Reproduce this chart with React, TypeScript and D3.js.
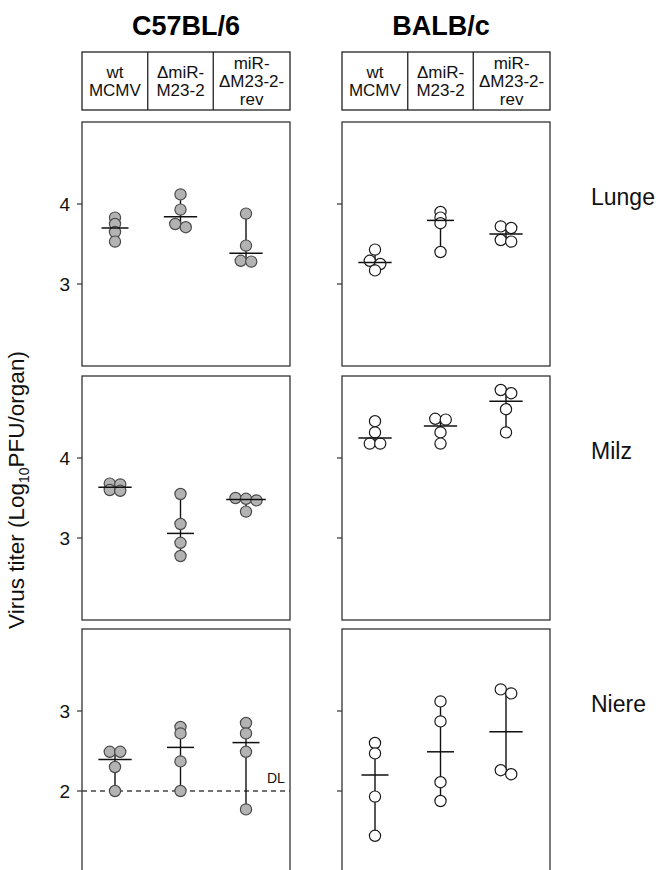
import React from "react";
import * as d3 from "d3";

// Strains (columns), organs (rows) and virus groups (x categories)
const strains = ["C57BL/6", "BALB/c"];
const organs = ["Lunge", "Milz", "Niere"];
const groups = ["wt MCMV", "ΔmiR-M23-2", "miR-ΔM23-2-rev"];
const groupLabelLines = [
  ["wt", "MCMV"],
  ["ΔmiR-", "M23-2"],
  ["miR-", "ΔM23-2-", "rev"],
];

// Virus titer, log10 PFU per organ, one array per group (4 mice each)
const lungeC57 = [
  [3.83, 3.75, 3.65, 3.53],
  [4.12, 3.93, 3.75, 3.71],
  [3.88, 3.48, 3.29, 3.28],
];
const lungeBALB = [
  [4.43, 4.29, 4.25, 4.17],
  [4.9, 4.83, 4.76, 4.4],
  [4.72, 4.7, 4.55, 4.53],
];
const milzC57 = [
  [3.68, 3.67, 3.6, 3.59],
  [3.55, 3.175, 2.94, 2.775],
  [3.5, 3.49, 3.47, 3.33],
];
const milzBALB = [
  [5.46, 5.32, 5.18, 5.18],
  [5.49, 5.48, 5.32, 5.18],
  [5.85, 5.81, 5.61, 5.32],
];
const niereC57 = [
  [2.49, 2.49, 2.3, 2.0],
  [2.8, 2.72, 2.37, 2.0],
  [2.85, 2.72, 2.49, 1.77],
];
const niereBALB = [
  [3.6, 3.47, 2.93, 2.44],
  [4.12, 3.87, 3.11, 2.875],
  [4.27, 4.22, 3.26, 3.21],
];

// Tick values per organ row
const c57Ticks = [[4, 3], [4, 3], [3, 2]];
const balbTicks = [[5, 4], [5, 4], [4, 3]];

// Detection limit (C57BL/6 kidney)
const detectionLimit = 2;

const dataByStrain = [
  [lungeC57, milzC57, niereC57],
  [lungeBALB, milzBALB, niereBALB],
];
const ticksByStrain = [c57Ticks, balbTicks];

// Layout
const FONT = "'Liberation Sans', Arial, sans-serif";
const colX = [82, 342];
const rowY = [122, 376, 629];
const panelW = 208;
const panelH = 244;
const headerTop = 52;
const headerH = 58;
const titleX = [186, 441];

const R = 5.6;

function xScale(s: number) {
  const x0 = colX[s];
  return d3.scalePoint<string>().domain(groups).range([x0 + 33, x0 + 164]);
}

type Placed = { v: number; dx: number };

// Spread points of nearly equal value side by side
function dodge(values: number[], y: d3.ScaleLinear<number, number>): { pts: Placed[]; spread: number } {
  const sorted = [...values].sort((a, b) => b - a);
  const rows: number[][] = [];
  for (const v of sorted) {
    const last = rows[rows.length - 1];
    if (last && Math.abs(y(v) - y(last[0])) < 5) last.push(v);
    else rows.push([v]);
  }
  const pts: Placed[] = [];
  let spread = 0;
  const step = 10.5;
  rows.forEach((row) => {
    row.forEach((v, i) => {
      const dx = (i - (row.length - 1) / 2) * step;
      spread = Math.max(spread, Math.abs(dx));
      pts.push({ v, dx });
    });
  });
  return { pts, spread };
}

function Panel({ s, o }: { s: number; o: number }) {
  const x0 = colX[s];
  const y0 = rowY[o];
  const ticks = ticksByStrain[s][o];
  const hi = d3.max(ticks) as number;
  const lo = d3.min(ticks) as number;
  const y = d3.scaleLinear().domain([lo - 1.025, hi + 1.025]).range([y0 + panelH, y0]);
  const x = xScale(s);
  const filled = s === 0;
  const series = dataByStrain[s][o];
  const fill = filled ? "#b3b3b3" : "#ffffff";
  const stroke = filled ? "#4a4a4a" : "#1a1a1a";

  return (
    <g>
      <rect x={x0} y={y0} width={panelW} height={panelH} fill="#fff" stroke="#333" strokeWidth={1.3} />
      {ticks.map((t) => (
        <g key={t}>
          <line x1={x0 - 5} x2={x0} y1={y(t)} y2={y(t)} stroke="#333" strokeWidth={1.2} />
          {s === 0 && (
            <text x={x0 - 12} y={y(t)} textAnchor="end" dominantBaseline="central" fontSize={19} fontFamily={FONT} fill="#111">
              {t}
            </text>
          )}
        </g>
      ))}
      {s === 0 && o === 2 && (
        <g>
          <line
            x1={x0}
            x2={x0 + panelW}
            y1={y(detectionLimit)}
            y2={y(detectionLimit)}
            stroke="#444"
            strokeWidth={1.3}
            strokeDasharray="5,4"
          />
          <text x={x0 + 185} y={y(detectionLimit) - 8} fontSize={14} fontFamily={FONT} fill="#111">
            DL
          </text>
        </g>
      )}
      {series.map((vals, gi) => {
        const cx = x(groups[gi]) as number;
        const { pts, spread } = dodge(vals, y);
        const med = d3.median(vals) as number;
        const [mn, mx] = d3.extent(vals) as [number, number];
        const hw = 13.5 + spread * 0.6;
        return (
          <g key={gi}>
            <line x1={cx} x2={cx} y1={y(mx)} y2={y(mn)} stroke="#111" strokeWidth={1.4} />
            {pts.map((p, i) => (
              <circle key={i} cx={cx + p.dx} cy={y(p.v)} r={R} fill={fill} stroke={stroke} strokeWidth={1.2} />
            ))}
            <line x1={cx - hw} x2={cx + hw} y1={y(med)} y2={y(med)} stroke="#111" strokeWidth={1.5} />
          </g>
        );
      })}
    </g>
  );
}

function Header({ s }: { s: number }) {
  const x = xScale(s);
  const x0 = colX[s];
  // cell borders: panel edges and midpoints between group positions
  const edges = [x0];
  for (let i = 0; i < groups.length - 1; i++) {
    edges.push(((x(groups[i]) as number) + (x(groups[i + 1]) as number)) / 2);
  }
  edges.push(x0 + panelW);
  const lh = 18;
  const cy = headerTop + headerH / 2;
  return (
    <g>
      <text x={titleX[s]} y={35} textAnchor="middle" fontSize={27} fontWeight="bold" fontFamily={FONT} fill="#000">
        {strains[s]}
      </text>
      <rect x={edges[0]} y={headerTop} width={edges[3] - edges[0]} height={headerH} fill="#fff" stroke="#222" strokeWidth={1.3} />
      {[1, 2].map((i) => (
        <line key={i} x1={edges[i]} x2={edges[i]} y1={headerTop} y2={headerTop + headerH} stroke="#222" strokeWidth={1.3} />
      ))}
      {groupLabelLines.map((lines, gi) => {
        const mid = (edges[gi] + edges[gi + 1]) / 2;
        return (
          <text key={gi} textAnchor="middle" fontSize={17} fontFamily={FONT} fill="#111">
            {lines.map((ln, li) => (
              <tspan key={li} x={mid} y={cy + (li - (lines.length - 1) / 2) * lh} dominantBaseline="central">
                {ln}
              </tspan>
            ))}
          </text>
        );
      })}
    </g>
  );
}

export default function App() {
  return (
    <svg
      width={665}
      height={870}
      style={{ position: "absolute", left: 0, top: 0, background: "#fff" }}
      xmlns="http://www.w3.org/2000/svg"
    >
      <rect width={665} height={870} fill="#fff" />
      {strains.map((_, s) => (
        <Header key={s} s={s} />
      ))}
      {strains.map((_, s) => organs.map((_, o) => <Panel key={`${s}-${o}`} s={s} o={o} />))}
      {organs.map((name, o) => (
        <text key={name} x={591} y={rowY[o] + 83} fontSize={23} fontFamily={FONT} fill="#111">
          {name}
        </text>
      ))}
      <text transform="translate(24,490) rotate(-90)" textAnchor="middle" fontSize={22.5} fontFamily={FONT} fill="#111">
        Virus titer (Log
        <tspan fontSize={14} dy={5}>10</tspan>
        <tspan dy={-5}>PFU/organ)</tspan>
      </text>
    </svg>
  );
}
